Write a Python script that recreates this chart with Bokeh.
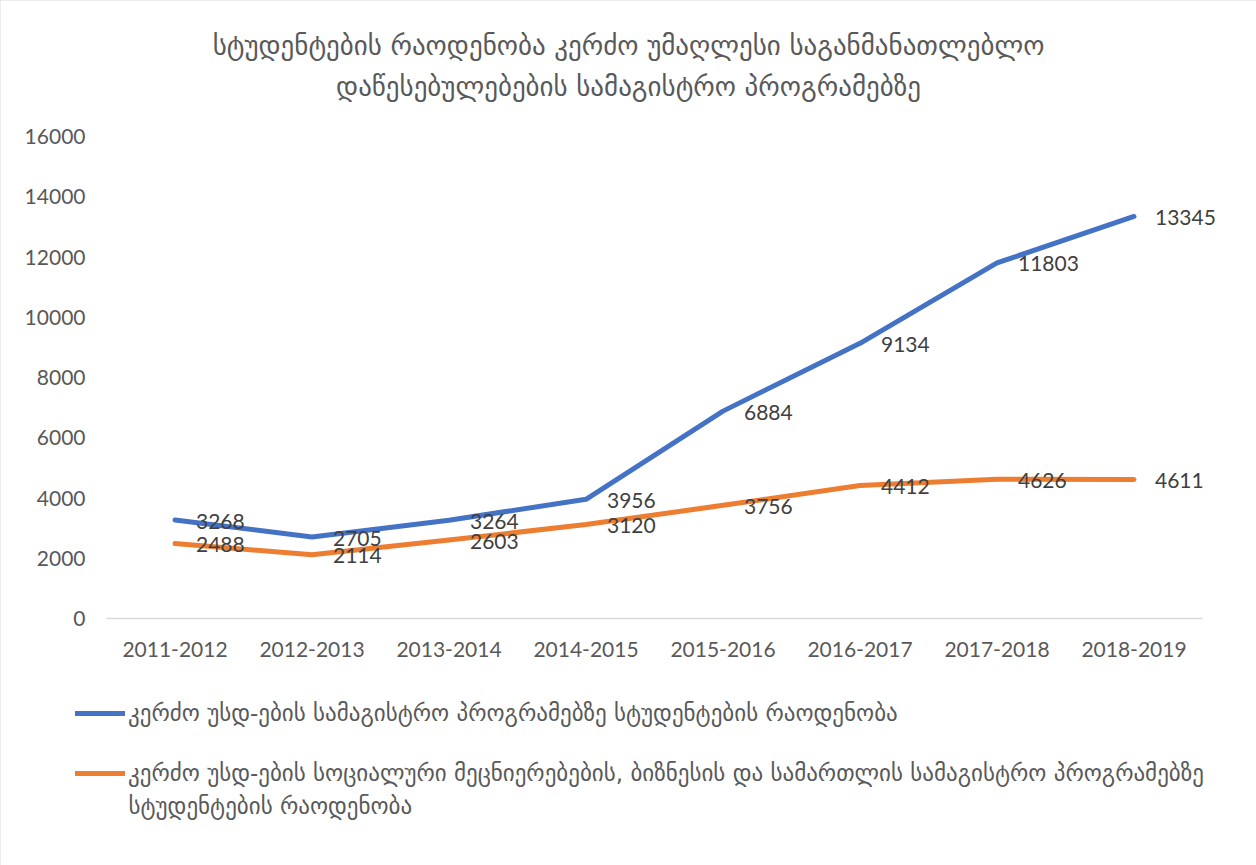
from bokeh.plotting import figure
from bokeh.models import (Range1d, FixedTicker, ColumnDataSource,
                          LabelSet, Label, Legend, LegendItem)
from bokeh.core.properties import value
from bokeh.embed import file_html
from bokeh.resources import INLINE

# ---------------- data ----------------
years = ["2011-2012", "2012-2013", "2013-2014", "2014-2015",
         "2015-2016", "2016-2017", "2017-2018", "2018-2019"]
total_students = [3268, 2705, 3264, 3956, 6884, 9134, 11803, 13345]
social_students = [2488, 2114, 2603, 3120, 3756, 4412, 4626, 4611]
y_ticks = [0, 2000, 4000, 6000, 8000, 10000, 12000, 14000, 16000]

title_line1 = "სტუდენტების რაოდენობა კერძო უმაღლესი საგანმანათლებლო"
title_line2 = "დაწესებულებების სამაგისტრო პროგრამებზე"
legend_total = "კერძო უსდ-ების სამაგისტრო პროგრამებზე სტუდენტების რაოდენობა"
legend_social_line1 = ("კერძო უსდ-ების სოციალური მეცნიერებების, ბიზნესის და სამართლის "
                       "სამაგისტრო პროგრამებზე")
legend_social_line2 = "სტუდენტების რაოდენობა"

BLUE = "#4472C4"
ORANGE = "#ED7D31"
GRAY = "#595959"
LABEL = "#404040"
GEO_FONT = "DejaVu Sans"
NUM_FONT = "Lato"

# ---------------- layout (pixels) ----------------
W, H = 1256, 865
PLOT_LEFT, PLOT_RIGHT = 106, 1202      # plot area edges
PLOT_TOP, PLOT_BOTTOM = 136, 618
Y_MAX = y_ticks[-1]

n = len(years)
x_pos = list(range(n))
x_labels = {i: y for i, y in zip(x_pos, years)}
px_per_cat = (PLOT_RIGHT - PLOT_LEFT) / n
px_per_unit = (PLOT_BOTTOM - PLOT_TOP) / Y_MAX
x0 = -0.5 - PLOT_LEFT / px_per_cat
x1 = n - 0.5 + (W - PLOT_RIGHT) / px_per_cat
y1 = Y_MAX + PLOT_TOP / px_per_unit
y0 = -(H - PLOT_BOTTOM) / px_per_unit

p = figure(x_range=Range1d(x0, x1), y_range=Range1d(y0, y1),
           width=W, height=H,
           min_border_left=0, min_border_right=0,
           min_border_top=0, min_border_bottom=0,
           output_backend="svg", toolbar_location=None,
           background_fill_color="white", border_fill_color="white")
p.title.visible = False
p.styles = {"outline": "1px solid #d9d9d9", "outline-offset": "-1px"}
p.outline_line_color = None
p.xgrid.visible = False
p.ygrid.visible = False

# axes (fixed inside the frame)
p.yaxis.fixed_location = -0.5
p.yaxis.ticker = FixedTicker(ticks=y_ticks)
p.yaxis.axis_line_color = None
p.yaxis.major_tick_line_color = None
p.yaxis.minor_tick_line_color = None
p.yaxis.major_label_standoff = 15
p.yaxis.major_label_text_font = NUM_FONT
p.yaxis.major_label_text_font_size = "21px"
p.yaxis.major_label_text_color = GRAY

p.xaxis.fixed_location = 0
p.xaxis.ticker = FixedTicker(ticks=x_pos)
p.xaxis.major_label_overrides = x_labels
p.xaxis.bounds = (-0.5, n - 0.5)
p.xaxis.axis_line_color = "#d9d9d9"
p.xaxis.axis_line_width = 1.5
p.xaxis.major_tick_line_color = None
p.xaxis.minor_tick_line_color = None
p.xaxis.major_label_standoff = 17
p.xaxis.major_label_text_font = NUM_FONT
p.xaxis.major_label_text_font_size = "21px"
p.xaxis.major_label_text_color = GRAY

# lines
r_total = p.line(x=x_pos, y=total_students, line_width=5, line_color=BLUE,
                 line_cap="round", line_join="round")
r_social = p.line(x=x_pos, y=social_students, line_width=5, line_color=ORANGE,
                  line_cap="round", line_join="round")

# data labels
for vals in (total_students, social_students):
    src = ColumnDataSource(dict(x=x_pos, y=vals, t=[str(v) for v in vals]))
    p.add_layout(LabelSet(x="x", y="y", text="t", source=src, x_offset=21, y_offset=-1,
                          text_baseline="middle", text_align="left",
                          text_font=value(NUM_FONT), text_font_size=value("21px"),
                          text_color=value(LABEL)))

# title (screen units measured from the frame's bottom-left corner)
for txt, cy in ((title_line1, 45), (title_line2, 86)):
    p.add_layout(Label(x=628, y=H - cy, x_units="screen", y_units="screen", text=txt,
                       text_align="center", text_baseline="middle",
                       text_font=GEO_FONT, text_font_size="27px",
                       text_color=GRAY))

# legend
legend = Legend(items=[LegendItem(label=legend_total, renderers=[r_total]),
                       LegendItem(label=legend_social_line1, renderers=[r_social])],
                location=(75, H - 788), orientation="vertical",
                glyph_width=50, glyph_height=30, label_height=30, label_standoff=3,
                padding=0, margin=0, spacing=30,
                border_line_color=None, background_fill_alpha=0,
                label_text_font=GEO_FONT, label_text_font_size="23px",
                label_text_color=GRAY)
p.add_layout(legend, "center")
# wrapped continuation of the second legend entry
p.add_layout(Label(x=128, y=H - 805, x_units="screen", y_units="screen",
                   text=legend_social_line2, text_align="left", text_baseline="middle",
                   text_font=GEO_FONT, text_font_size="23px", text_color=GRAY))

open("out.html", "w").write(file_html(p, INLINE))
